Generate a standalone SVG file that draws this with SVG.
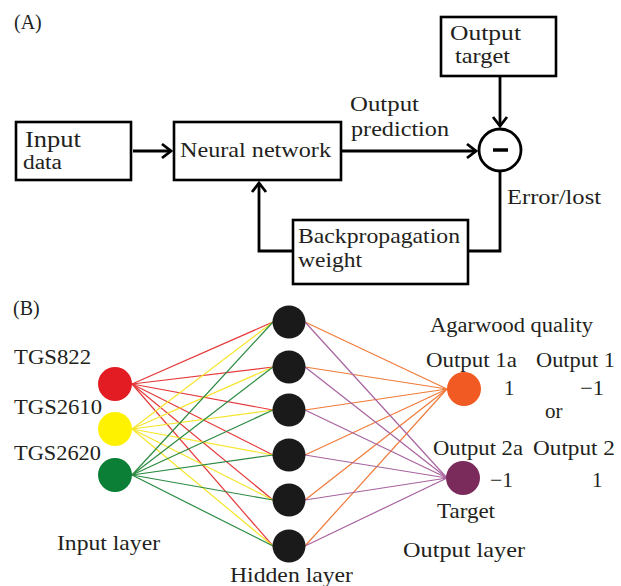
<svg xmlns="http://www.w3.org/2000/svg" width="621" height="586" viewBox="0 0 621 586">
<style>
text{font-family:"Liberation Serif","Times New Roman",serif;fill:#231f20}
.a{font-size:22px}
.b{font-size:21px}
.box{fill:#fff;stroke:#000;stroke-width:2.6}
.con{fill:none;stroke:#000;stroke-width:2.8}
.er{stroke:#e5393a;stroke-width:1.2}
.ey{stroke:#f6e52a;stroke-width:1.2}
.eg{stroke:#2b8a40;stroke-width:1.2}
.eo{stroke:#f07a3a;stroke-width:1.2}
.ep{stroke:#a8639f;stroke-width:1.2}
</style>
<defs>
<marker id="arr" viewBox="-12 -9 14 18" refX="0" refY="0" markerWidth="14" markerHeight="18" markerUnits="userSpaceOnUse" orient="auto">
<path d="M-9,-7 L0,0 L-9,7" fill="none" stroke="#000" stroke-width="2.8"/>
</marker>
</defs>
<rect width="621" height="586" fill="#fff"/>

<!-- Part A -->
<text x="14" y="29" style="font-size:20px">(A)</text>

<g id="connectors-a">
<path class="con" d="M133,151 H171" marker-end="url(#arr)"/>
<path class="con" d="M341,151 H476" marker-end="url(#arr)"/>
<path class="con" d="M500,76 V126" marker-end="url(#arr)"/>
<path class="con" d="M500,171 V251 H468"/>
<path class="con" d="M293,251 H259 V183" marker-end="url(#arr)"/>
</g>

<g id="output-target">
<rect class="box" x="441" y="17" width="115" height="59"/>
<text class="a" x="450" y="40" textLength="71" lengthAdjust="spacingAndGlyphs">Output</text>
<text class="a" x="455" y="63" textLength="55" lengthAdjust="spacingAndGlyphs">target</text>
</g>

<g id="input-data">
<rect class="box" x="16" y="122" width="115" height="58"/>
<text x="25" y="147" style="font-size:24px" textLength="56" lengthAdjust="spacingAndGlyphs">Input</text>
<text x="23" y="169" style="font-size:20px" textLength="39" lengthAdjust="spacingAndGlyphs">data</text>
</g>

<g id="neural-network">
<rect class="box" x="174" y="122" width="167" height="58"/>
<text class="a" x="180" y="157" textLength="151" lengthAdjust="spacingAndGlyphs">Neural network</text>
</g>

<g id="subtract">
<circle cx="500" cy="150" r="21" fill="#fff" stroke="#000" stroke-width="2.8"/>
<line x1="493" y1="150" x2="508" y2="150" stroke="#000" stroke-width="3.5"/>
</g>

<g id="backpropagation">
<rect class="box" x="293" y="220" width="175" height="64"/>
<text class="a" x="298" y="243" textLength="162" lengthAdjust="spacingAndGlyphs">Backpropagation</text>
<text class="a" x="298" y="267" textLength="64" lengthAdjust="spacingAndGlyphs">weight</text>
</g>

<g id="labels-a">
<text class="a" x="350" y="111" textLength="69" lengthAdjust="spacingAndGlyphs">Output</text>
<text class="a" x="351" y="136" textLength="98" lengthAdjust="spacingAndGlyphs">prediction</text>
<text class="a" x="507" y="204" textLength="94" lengthAdjust="spacingAndGlyphs">Error/lost</text>
</g>

<!-- Part B -->
<text x="13" y="315" style="font-size:20px">(B)</text>

<g id="connectors-b">
<g class="er">
<line x1="132" y1="384" x2="273" y2="322"/>
<line x1="132" y1="384" x2="273" y2="367"/>
<line x1="132" y1="384" x2="273" y2="410"/>
<line x1="132" y1="384" x2="273" y2="455"/>
<line x1="132" y1="384" x2="273" y2="500"/>
<line x1="132" y1="384" x2="273" y2="546"/>
</g>
<g class="ey">
<line x1="132" y1="429" x2="273" y2="322"/>
<line x1="132" y1="429" x2="273" y2="367"/>
<line x1="132" y1="429" x2="273" y2="410"/>
<line x1="132" y1="429" x2="273" y2="455"/>
<line x1="132" y1="429" x2="273" y2="500"/>
<line x1="132" y1="429" x2="273" y2="546"/>
</g>
<g class="eg">
<line x1="132" y1="475" x2="273" y2="322"/>
<line x1="132" y1="475" x2="273" y2="367"/>
<line x1="132" y1="475" x2="273" y2="410"/>
<line x1="132" y1="475" x2="273" y2="455"/>
<line x1="132" y1="475" x2="273" y2="500"/>
<line x1="132" y1="475" x2="273" y2="546"/>
</g>
<g class="eo">
<line x1="305" y1="322" x2="447" y2="389"/>
<line x1="305" y1="367" x2="447" y2="389"/>
<line x1="305" y1="410" x2="447" y2="389"/>
<line x1="305" y1="455" x2="447" y2="389"/>
<line x1="305" y1="500" x2="447" y2="389"/>
<line x1="305" y1="546" x2="447" y2="389"/>
</g>
<g class="ep">
<line x1="305" y1="322" x2="447" y2="478"/>
<line x1="305" y1="367" x2="447" y2="478"/>
<line x1="305" y1="410" x2="447" y2="478"/>
<line x1="305" y1="455" x2="447" y2="478"/>
<line x1="305" y1="500" x2="447" y2="478"/>
<line x1="305" y1="546" x2="447" y2="478"/>
</g>
</g>

<g id="in-tgs822"><circle cx="115" cy="384" r="17" fill="#e31b23"/></g>
<g id="in-tgs2610"><circle cx="115" cy="429" r="17" fill="#fff200"/></g>
<g id="in-tgs2620"><circle cx="115" cy="475" r="17" fill="#0a7f35"/></g>

<g id="hidden-1"><circle cx="289" cy="322" r="16.5" fill="#1a1a1a"/></g>
<g id="hidden-2"><circle cx="289" cy="367" r="16.5" fill="#1a1a1a"/></g>
<g id="hidden-3"><circle cx="289" cy="410" r="16.5" fill="#1a1a1a"/></g>
<g id="hidden-4"><circle cx="289" cy="455" r="16.5" fill="#1a1a1a"/></g>
<g id="hidden-5"><circle cx="289" cy="500" r="16.5" fill="#1a1a1a"/></g>
<g id="hidden-6"><circle cx="289" cy="546" r="16.5" fill="#1a1a1a"/></g>

<g id="out-1"><circle cx="464" cy="389" r="17" fill="#f15a22"/></g>
<g id="out-2"><circle cx="463" cy="478" r="17" fill="#7b2a5c"/></g>

<g id="labels-b">
<text class="b" x="14" y="364" textLength="77" lengthAdjust="spacingAndGlyphs">TGS822</text>
<text class="b" x="14" y="414" textLength="88" lengthAdjust="spacingAndGlyphs">TGS2610</text>
<text class="b" x="14" y="460" textLength="87" lengthAdjust="spacingAndGlyphs">TGS2620</text>
<text class="b" x="57" y="550" textLength="103" lengthAdjust="spacingAndGlyphs">Input layer</text>
<text class="b" x="230" y="582" textLength="123" lengthAdjust="spacingAndGlyphs">Hidden layer</text>
<text x="430" y="332" style="font-size:20px" textLength="163" lengthAdjust="spacingAndGlyphs">Agarwood quality</text>
<text class="b" x="426" y="367" textLength="91" lengthAdjust="spacingAndGlyphs">Output 1a</text>
<text class="b" x="536" y="367" textLength="79" lengthAdjust="spacingAndGlyphs">Output 1</text>
<text class="b" x="504" y="395">1</text>
<text class="b" x="580" y="395" textLength="24" lengthAdjust="spacingAndGlyphs">−1</text>
<text class="b" x="545" y="418">or</text>
<text class="b" x="433" y="455" textLength="90" lengthAdjust="spacingAndGlyphs">Output 2a</text>
<text class="b" x="533" y="455" textLength="82" lengthAdjust="spacingAndGlyphs">Output 2</text>
<text class="b" x="490" y="487" textLength="23" lengthAdjust="spacingAndGlyphs">−1</text>
<text class="b" x="592" y="487">1</text>
<text class="b" x="437" y="518" textLength="58" lengthAdjust="spacingAndGlyphs">Target</text>
<text class="b" x="403" y="557" textLength="122" lengthAdjust="spacingAndGlyphs">Output layer</text>
</g>
</svg>
